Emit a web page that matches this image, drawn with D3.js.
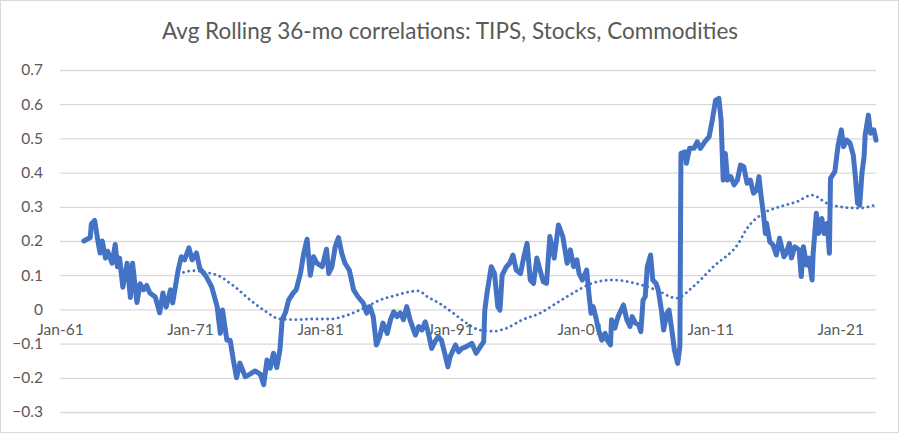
<!DOCTYPE html>
<html><head><meta charset="utf-8">
<script src="https://cdn.jsdelivr.net/npm/d3@7"></script>
<style>
html,body{margin:0;padding:0;background:#fff;}
svg{display:block;}
text{font-family:Lato,"Open Sans",sans-serif;fill:#595959;}
</style></head>
<body>
<svg id="chart" width="899" height="433"></svg>
<script>
const title = "Avg Rolling 36-mo correlations: TIPS, Stocks, Commodities";
const yTicks = [-0.3,-0.2,-0.1,0,0.1,0.2,0.3,0.4,0.5,0.6,0.7];
const xTickYears = [1961,1971,1981,1991,2001,2011,2021];

// Avg rolling 36-month correlation (monthly)
const corrDates = ["1962-11","1963-05","1963-06","1963-09","1963-12","1964-02","1964-04","1964-07","1964-09","1965-01","1965-04","1965-06","1965-08","1965-11","1966-03","1966-06","1966-08","1966-12","1967-03","1967-06","1967-09","1967-12","1968-05","1968-09","1968-12","1969-03","1969-07","1969-09","1970-02","1970-05","1970-08","1970-12","1971-03","1971-07","1971-10","1972-04","1972-09","1973-02","1973-05","1973-07","1973-11","1974-02","1974-05","1974-08","1974-11","1975-04","1975-08","1976-01","1976-06","1976-09","1976-12","1977-03","1977-06","1977-09","1977-12","1978-02","1978-05","1978-08","1978-12","1979-03","1979-07","1979-10","1980-01","1980-04","1980-07","1980-10","1981-03","1981-07","1981-09","1981-12","1982-03","1982-06","1982-09","1982-12","1983-04","1983-08","1983-12","1984-05","1984-08","1984-11","1985-02","1985-05","1985-08","1985-11","1986-03","1986-06","1986-09","1986-12","1987-03","1987-06","1987-09","1987-12","1988-05","1988-08","1988-11","1989-02","1989-05","1989-08","1989-11","1990-02","1990-05","1990-08","1990-11","1991-01","1991-06","1991-09","1991-12","1992-04","1992-09","1993-01","1993-05","1993-08","1993-09","1993-11","1994-03","1994-06","1994-09","1994-11","1995-01","1995-05","1995-08","1995-11","1996-02","1996-06","1996-09","1996-12","1997-03","1997-06","1997-09","1997-12","1998-03","1998-06","1998-09","1999-01","1999-05","1999-09","2000-01","2000-04","2000-07","2000-10","2000-12","2001-03","2001-07","2001-09","2001-11","2002-01","2002-04","2002-06","2002-09","2002-12","2003-02","2003-05","2003-06","2003-09","2003-12","2004-05","2004-08","2004-11","2005-01","2005-04","2005-07","2005-09","2005-11","2006-01","2006-03","2006-06","2006-08","2006-11","2007-01","2007-04","2007-06","2007-09","2007-11","2008-02","2008-04","2008-07","2008-09","2008-10","2009-02","2009-03","2009-06","2009-10","2010-01","2010-04","2010-08","2010-12","2011-03","2011-06","2011-09","2011-11","2012-01","2012-03","2012-05","2012-08","2012-11","2013-02","2013-05","2013-08","2013-11","2014-02","2014-05","2014-08","2014-10","2014-12","2015-02","2015-04","2015-05","2015-08","2015-11","2016-02","2016-05","2016-09","2016-11","2017-02","2017-04","2017-07","2017-11","2018-01","2018-03","2018-06","2018-08","2018-11","2018-12","2019-03","2019-05","2019-08","2019-10","2020-01","2020-03","2020-04","2020-08","2020-11","2021-02","2021-04","2021-07","2021-10","2022-01","2022-03","2022-05","2022-07","2022-09","2022-11","2022-12","2023-03","2023-05","2023-08","2023-10"];
const corrValues = [0.20,0.21,0.25,0.26,0.20,0.165,0.20,0.15,0.17,0.135,0.19,0.125,0.15,0.065,0.135,0.035,0.135,0.02,0.075,0.057,0.07,0.048,0.036,-0.01,0.048,0.007,0.057,0.019,0.115,0.154,0.145,0.18,0.145,0.165,0.12,0.096,0.066,0.008,-0.07,-0.002,-0.09,-0.09,-0.148,-0.2,-0.157,-0.197,-0.19,-0.18,-0.19,-0.22,-0.148,-0.172,-0.128,-0.17,-0.118,-0.03,-0.01,0.027,0.047,0.057,0.106,0.165,0.205,0.10,0.154,0.135,0.125,0.176,0.105,0.125,0.183,0.21,0.164,0.135,0.115,0.057,0.037,0.018,-0.011,0.008,-0.021,-0.104,-0.08,-0.04,-0.07,-0.03,-0.007,-0.021,-0.01,-0.03,0.008,-0.03,-0.075,-0.05,-0.06,-0.036,-0.07,-0.114,-0.094,-0.08,-0.09,-0.128,-0.168,-0.138,-0.104,-0.124,-0.114,-0.109,-0.099,-0.128,-0.109,-0.094,-0.002,0.047,0.125,0.105,0.008,-0.002,0.10,0.125,0.135,0.159,0.115,0.105,0.154,0.193,0.086,0.076,0.15,0.115,0.081,0.076,0.213,0.15,0.247,0.213,0.135,0.174,0.125,0.145,0.105,0.086,0.115,0.047,-0.011,0.008,-0.03,-0.06,-0.09,-0.07,-0.09,-0.104,-0.03,-0.055,-0.021,0.013,-0.03,-0.05,-0.021,-0.04,-0.045,-0.065,0.027,0.037,0.125,0.159,0.086,0.076,0.057,-0.002,-0.06,-0.011,-0.002,-0.07,-0.119,-0.158,-0.109,0.456,0.461,0.427,0.471,0.471,0.49,0.471,0.49,0.505,0.554,0.612,0.617,0.554,0.378,0.456,0.378,0.388,0.364,0.378,0.422,0.417,0.369,0.378,0.34,0.349,0.388,0.33,0.281,0.222,0.252,0.198,0.188,0.159,0.208,0.154,0.164,0.193,0.15,0.183,0.174,0.096,0.183,0.13,0.15,0.086,0.164,0.281,0.222,0.266,0.222,0.252,0.164,0.383,0.403,0.48,0.525,0.476,0.495,0.486,0.451,0.388,0.31,0.305,0.398,0.447,0.51,0.568,0.515,0.525,0.495];

// Smoothed trend (dotted)
const trendDates = ["1970-07","1971-04","1972-04","1973-05","1974-02","1974-08","1975-05","1976-09","1977-12","1979-03","1980-07","1981-10","1983-01","1984-06","1985-08","1986-12","1987-12","1988-08","1989-04","1990-03","1991-04","1992-04","1993-04","1994-05","1995-05","1996-08","1997-12","1999-03","2000-06","2001-10","2003-06","2005-08","2006-11","2008-06","2009-09","2011-04","2013-04","2013-10","2015-02","2016-05","2017-09","2018-11","2020-01","2021-01","2022-07","2023-07","2023-10"];
const trendValues = [0.108,0.113,0.108,0.096,0.076,0.062,0.037,-0.002,-0.028,-0.03,-0.028,-0.028,-0.018,0.005,0.027,0.042,0.052,0.054,0.037,0.018,-0.011,-0.04,-0.06,-0.064,-0.055,-0.03,-0.011,0.018,0.047,0.074,0.086,0.073,0.057,0.033,0.066,0.125,0.198,0.232,0.281,0.30,0.315,0.334,0.31,0.30,0.296,0.303,0.305];

const parse = d3.timeParse("%Y-%m");
const corr = corrDates.map((d,i)=>({date:parse(d), v:corrValues[i]}));
const trend = trendDates.map((d,i)=>({date:parse(d), v:trendValues[i]}));

const svg = d3.select("#chart");
const W = 899, H = 433;
svg.append("rect").attr("x",0.5).attr("y",0.5).attr("width",W-1).attr("height",H-1)
  .attr("fill","#fff").attr("stroke","#d9d9d9").attr("stroke-width",1);

const x = d3.scaleTime().domain([parse("1961-01"), parse("2023-10")]).range([60, 876]);
const y = d3.scaleLinear().domain([-0.3, 0.7]).range([412, 70]);

svg.append("text").attr("x",450).attr("y",39).attr("text-anchor","middle")
  .style("font-size","22.5px").text(title);

// gridlines
const yAxis = d3.axisLeft(y).tickValues(yTicks).tickSize(-(876-60)).tickPadding(17)
  .tickFormat(d => d===0 ? "0" : d3.format(".1f")(d));
const gy = svg.append("g").attr("transform","translate(60,0)").call(yAxis);
gy.select(".domain").remove();
gy.selectAll(".tick line").attr("stroke","#d9d9d9").attr("stroke-width",1.3);
gy.selectAll(".tick text").style("font-size","15.5px").attr("fill","#595959")
  .style("font-family","Lato, 'Open Sans', sans-serif");

// x axis labels at zero line
const xAxis = d3.axisBottom(x).tickValues(xTickYears.map(yr=>new Date(yr,0,1)))
  .tickSize(0).tickPadding(15).tickFormat(d3.timeFormat("Jan-%y"));
const gx = svg.append("g").attr("transform",`translate(0,${y(0)})`).call(xAxis);
gx.select(".domain").remove();
gx.selectAll(".tick text").style("font-size","15.5px").attr("fill","#595959")
  .style("font-family","Lato, 'Open Sans', sans-serif");

// trend dotted line
svg.append("path").datum(trend)
  .attr("fill","none").attr("stroke","#4472C4").attr("stroke-width",2.8)
  .attr("stroke-dasharray","0.1 5.2").attr("stroke-linecap","round")
  .attr("d", d3.line().x(d=>x(d.date)).y(d=>y(d.v)).curve(d3.curveMonotoneX));

// main line
svg.append("path").datum(corr)
  .attr("fill","none").attr("stroke","#4472C4").attr("stroke-width",5)
  .attr("stroke-linejoin","round").attr("stroke-linecap","round")
  .attr("d", d3.line().x(d=>x(d.date)).y(d=>y(d.v)));
</script>
</body></html>
